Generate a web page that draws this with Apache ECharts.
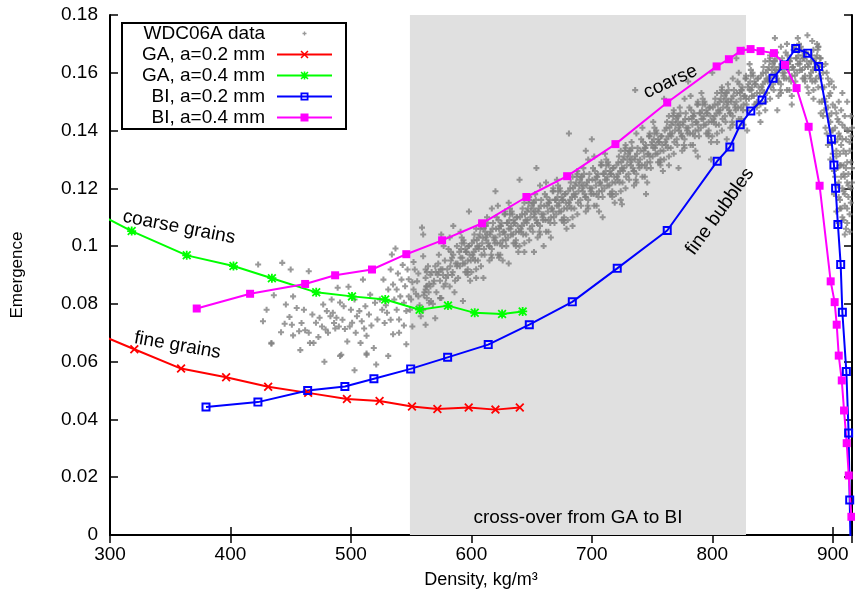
<!DOCTYPE html>
<html><head><meta charset="utf-8">
<script src="https://cdn.jsdelivr.net/npm/echarts@6/dist/echarts.min.js"></script>
<style>html,body{margin:0;padding:0;background:#fff}#c{width:855px;height:598px}</style>
</head><body><div id="c"></div>
<script>
// ---- data (density kg/m3, emergence) ----
const seriesNames = ['WDC06A data', 'GA, a=0.2 mm', 'GA, a=0.4 mm', 'BI, a=0.2 mm', 'BI, a=0.4 mm'];
const xTicks = [300, 400, 500, 600, 700, 800, 900];
const yTicks = [0, 0.02, 0.04, 0.06, 0.08, 0.1, 0.12, 0.14, 0.16, 0.18];
const crossOver = [549, 828];

const ga02 = [[280,.0713],[320.2,.0643],[359,.0576],[396.4,.0546],[431.3,.0513],[464.5,.0492],[496.7,.0471],[523.8,.0464],[550.7,.0445],[571.8,.0436],[597.8,.0441],[620,.0434],[640.2,.0441]];
const ga04 = [[275,.1145],[318,.1052],[363.7,.0968],[402.5,.0931],[434.4,.0889],[471.2,.084],[500.9,.0826],[528.5,.0815],[557,.078],[580.6,.0794],[602.8,.0769],[625.5,.0765],[642.6,.0774]];
const bi02 = [[379.7,.0443],[422.8,.046],[464.1,.05],[495,.0514],[519.1,.0541],[549.6,.0575],[580.3,.0615],[614,.0659],[648.1,.0728],[683.8,.0807],[721.1,.0923],[762.6,.1054],[804.1,.1294],[814.6,.1343],[823.2,.142],[832,.1468],[841.3,.1506],[850.5,.1581],[859.6,.1627],[869.3,.1684],[879.2,.1668],[888.3,.1622],[898.9,.137],[901,.1281],[902.4,.12],[904.3,.1075],[906.6,.0936],[908,.0771],[911.3,.0566],[913.2,.0353],[914.1,.0121],[915.2,-.012]];
const bi04 = [[372,.0784],[416.3,.0835],[462,.0869],[486.9,.0899],[517.5,.0919],[546,.0972],[575.7,.102],[608.9,.1079],[645.7,.117],[679.5,.1242],[719.6,.1353],[762.6,.1497],[803.6,.1622],[813.8,.1647],[823.5,.1676],[831.8,.1682],[840.1,.1675],[851.2,.1668],[860.4,.1627],[870,.1547],[880,.1413],[889.1,.1209],[898.3,.0878],[901.6,.0806],[903.3,.0728],[905,.0621],[907.5,.0535],[909.4,.0431],[911.6,.0318],[913.3,.0206],[915.5,.0063]];

const wdcLow = [[423,.0936],[443,.0942],[450,.0919],[465,.0913],[427,.074],[430,.078],[434,.0665],[436,.083],[442,.0702],[445,.0731],[446,.0798],[451,.0728],[452,.0826],[452,.0691],[455,.0786],[459,.0734],[461,.078],[462,.0709],[465,.07],[466,.0665],[468,.0763],[469,.0665],[474,.0752],[476,.0722],[477,.0798],[479,.0711],[481,.07],[483,.0757],[485,.0769],[486,.0734],[488,.0752],[489,.0856],[490,.0722],[492,.0624],[494,.0792],[495,.0713],[497,.067],[498,.0859],[499,.0722],[500,.078],[504,.07],[505,.0757],[508,.0665],[509,.074],[510,.0884],[512,.0792],[513,.0624],[513,.069],[515,.0763],[516,.0832],[519,.0647],[520,.0804],[522,.0746],[526,.078],[527,.0884],[528,.0734],[530,.0769],[531,.085],[533,.0919],[534,.0971],[535,.0867],[537,.0992],[538,.078],[538,.085],[540,.0746],[541,.0826],[542,.0884],[544,.0804],[545,.0861],[547,.0919],[548,.0826],[549,.078],[551,.0722],[552,.085],[553,.0919],[555,.0878],[556,.0826],[558,.0757],[559,.1064],[560,.104],[560,.0965],[562,.0919],[562,.0728],[563,.0861],[565,.0804],
[491,.062],[513,.0628],[434,.0662],[503,.057],[478,.060],[521,.059],[458,.064],[531,.062],[546,.066],[540,.07],
[524,.0815],[529,.0795],[533,.0745],[536,.0815],[539,.0905],[543,.0935],[546,.0775],[548,.0885],[550,.0815],[552,.0945],[554,.0835],[556,.0905],[557,.0795],[551,.0875],[544,.0725],[535,.0695],
[471,.0735],[480,.0775],[487,.0715],[493,.0745],[501,.0735],[507,.0775],[511,.0715],[517,.0725],[503,.0815],[491,.0805],[484,.0815],[473,.0685],[457,.0705],[449,.0755]];

const wdcBand = [
[560,.078],[561,.084],[562,.089],[563,.082],[564,.093],[565,.087],[566,.086],[567,.091],[568,.080],[569,.088],[562,.085],[566,.090],
[570,.093],[571,.084],[572,.090],[573,.097],[574,.088],[575,.082],[576,.092],[577,.086],[578,.095],[579,.089],[573,.091],[577,.100],
[580,.092],[581,.099],[582,.086],[583,.095],[584,.090],[585,.097],[586,.084],[587,.094],[588,.100],[589,.089],[584,.096],[582,.103],[588,.093],
[590,.098],[591,.096],[592,.103],[593,.094],[594,.101],[595,.091],[596,.098],[597,.095],[598,.100],[599,.088],[591,.105],[595,.099],[597,.092],
[600,.091],[601,.097],[602,.102],[603,.095],[604,.106],[605,.100],[606,.099],[607,.104],[608,.093],[609,.101],[602,.098],[606,.103],[604,.089],[608,.108],
[610,.106],[611,.097],[612,.103],[613,.110],[614,.101],[615,.095],[616,.105],[617,.099],[618,.108],[619,.102],[613,.104],[617,.113],[615,.100],[611,.107],
[620,.103],[621,.110],[622,.097],[623,.106],[624,.101],[625,.108],[626,.095],[627,.105],[628,.111],[629,.100],[624,.107],[622,.114],[628,.104],[626,.102],
[630,.108],[631,.106],[632,.113],[633,.104],[634,.111],[635,.101],[636,.108],[637,.105],[638,.110],[639,.098],[631,.115],[635,.109],[637,.102],[633,.107],
[640,.100],[641,.106],[642,.111],[643,.104],[644,.115],[645,.109],[646,.108],[647,.113],[648,.102],[649,.110],[642,.107],[646,.112],[644,.098],[648,.117],
[650,.114],[651,.105],[652,.111],[653,.118],[654,.109],[655,.103],[656,.113],[657,.107],[658,.116],[659,.110],[653,.112],[657,.121],[655,.108],[651,.115],
[660,.111],[661,.118],[662,.105],[663,.114],[664,.109],[665,.116],[666,.103],[667,.113],[668,.119],[669,.108],[664,.115],[662,.122],[668,.112],[666,.110],
[670,.116],[671,.114],[672,.121],[673,.112],[674,.119],[675,.109],[676,.116],[677,.113],[678,.118],[679,.106],[671,.123],[675,.117],[677,.110],[673,.115],
[680,.109],[681,.115],[682,.120],[683,.113],[684,.124],[685,.118],[686,.117],[687,.122],[688,.111],[689,.119],[682,.116],[686,.121],[684,.107],[688,.126],
[690,.123],[691,.114],[692,.120],[693,.127],[694,.118],[695,.112],[696,.122],[697,.116],[698,.125],[699,.119],[693,.121],[697,.130],[695,.117],[691,.124],
[700,.120],[701,.127],[702,.114],[703,.123],[704,.118],[705,.125],[706,.112],[707,.122],[708,.128],[709,.117],[704,.124],[702,.131],[708,.121],[706,.119],
[710,.125],[711,.123],[712,.130],[713,.121],[714,.128],[715,.118],[716,.125],[717,.122],[718,.127],[719,.115],[711,.132],[715,.126],[717,.119],[713,.124],
[720,.118],[721,.124],[722,.129],[723,.122],[724,.133],[725,.127],[726,.126],[727,.131],[728,.120],[729,.128],[722,.125],[726,.130],[724,.116],[728,.135],
[730,.132],[731,.123],[732,.129],[733,.136],[734,.127],[735,.121],[736,.131],[737,.125],[738,.134],[739,.128],[733,.130],[737,.139],[735,.126],[731,.133],
[740,.130],[741,.137],[742,.124],[743,.133],[744,.128],[745,.135],[746,.122],[747,.132],[748,.138],[749,.127],[744,.134],[742,.141],[748,.131],[746,.129],
[750,.136],[751,.134],[752,.141],[753,.132],[754,.139],[755,.129],[756,.136],[757,.133],[758,.138],[759,.126],[751,.143],[755,.137],[757,.130],[753,.135],
[760,.130],[761,.136],[762,.141],[763,.134],[764,.145],[765,.139],[766,.138],[767,.143],[768,.132],[769,.140],[762,.137],[766,.142],[764,.128],[768,.147],
[770,.144],[771,.135],[772,.141],[773,.148],[774,.139],[775,.133],[776,.143],[777,.137],[778,.146],[779,.140],[773,.142],[777,.151],[775,.138],[771,.145],
[780,.141],[781,.148],[782,.135],[783,.144],[784,.139],[785,.146],[786,.133],[787,.143],[788,.149],[789,.138],[784,.145],[782,.152],[788,.142],[786,.140],
[790,.146],[791,.144],[792,.151],[793,.142],[794,.149],[795,.139],[796,.146],[797,.143],[798,.148],[799,.136],[791,.153],[795,.147],[797,.140],[793,.145],
[800,.138],[801,.144],[802,.149],[803,.142],[804,.153],[805,.147],[806,.146],[807,.151],[808,.140],[809,.148],[802,.145],[806,.150],[804,.136],[808,.155],
[810,.152],[811,.143],[812,.149],[813,.156],[814,.147],[815,.141],[816,.151],[817,.145],[818,.154],[819,.148],[813,.150],[817,.158],[815,.146],[811,.153],
[820,.150],[821,.157],[822,.144],[823,.153],[824,.148],[825,.155],[826,.142],[827,.152],[828,.158],[829,.147],[824,.154],[822,.160],[828,.151],[826,.149],
[830,.156],[831,.154],[832,.161],[833,.152],[834,.159],[835,.149],[836,.156],[837,.153],[838,.158],[839,.146],[831,.163],[835,.157],[837,.150],[833,.155],
[840,.149],[841,.155],[842,.160],[843,.153],[844,.164],[845,.158],[846,.157],[847,.162],[848,.151],[849,.159],[842,.156],[846,.161],[844,.147],[848,.166],
[850,.163],[851,.154],[852,.160],[853,.167],[854,.158],[855,.152],[856,.162],[857,.156],[858,.165],[859,.159],[853,.161],[857,.169],[855,.157],[851,.164],
[860,.160],[861,.167],[862,.154],[863,.163],[864,.158],[865,.165],[866,.152],[867,.162],[868,.168],[869,.157],[864,.164],[862,.170],[868,.161],[866,.159],
[870,.165],[871,.163],[872,.170],[873,.161],[874,.168],[875,.158],[876,.165],[877,.162],[878,.167],[879,.155],[871,.172],[875,.166],[877,.159],[873,.164],
[880,.153],[881,.159],[882,.164],[883,.157],[884,.168],[885,.162],[886,.161],[887,.166],[888,.155],[889,.163],[882,.160],[886,.165],[884,.151],[888,.169]];

const wdcCore = [
[560.5,.083],[562.5,.086],[564.5,.084],[566.5,.081],[568.5,.087],[563,.091],
[570.5,.091],[572.5,.094],[574.5,.092],[576.5,.090],[578.5,.087],[574,.082],
[580.5,.090],[582.5,.093],[584.5,.091],[586.5,.088],[588.5,.094],[583,.098],
[590.5,.093],[591.5,.099],[592.5,.096],[593.5,.102],[594.5,.094],[595.5,.098],[596.5,.091],[597.5,.100],[598.5,.097],[599.5,.095],[592,.101],[597,.090],
[600.5,.101],[601.5,.096],[602.5,.104],[603.5,.099],[604.5,.102],[605.5,.095],[606.5,.100],[607.5,.106],[608.5,.097],[609.5,.103],[604,.092],[608,.107],
[610.5,.099],[611.5,.105],[612.5,.102],[613.5,.108],[614.5,.100],[615.5,.104],[616.5,.097],[617.5,.106],[618.5,.103],[619.5,.101],[612,.107],[617,.096],
[620.5,.106],[621.5,.101],[622.5,.109],[623.5,.104],[624.5,.107],[625.5,.100],[626.5,.105],[627.5,.111],[628.5,.102],[629.5,.108],[624,.097],[628,.112],
[630.5,.103],[631.5,.109],[632.5,.106],[633.5,.112],[634.5,.104],[635.5,.108],[636.5,.101],[637.5,.110],[638.5,.107],[639.5,.105],[632,.111],[637,.100],
[640.5,.110],[641.5,.105],[642.5,.113],[643.5,.108],[644.5,.111],[645.5,.104],[646.5,.109],[647.5,.115],[648.5,.106],[649.5,.112],[644,.101],[648,.116],
[650.5,.107],[651.5,.113],[652.5,.110],[653.5,.116],[654.5,.108],[655.5,.112],[656.5,.105],[657.5,.114],[658.5,.111],[659.5,.109],[652,.115],[657,.104],
[660.5,.114],[661.5,.109],[662.5,.117],[663.5,.112],[664.5,.115],[665.5,.108],[666.5,.113],[667.5,.119],[668.5,.110],[669.5,.116],[664,.105],[668,.120],
[670.5,.111],[671.5,.117],[672.5,.114],[673.5,.120],[674.5,.112],[675.5,.116],[676.5,.109],[677.5,.118],[678.5,.115],[679.5,.113],[672,.119],[677,.108],
[680.5,.119],[681.5,.114],[682.5,.122],[683.5,.117],[684.5,.120],[685.5,.113],[686.5,.118],[687.5,.124],[688.5,.115],[689.5,.121],[684,.110],[688,.125],
[690.5,.116],[691.5,.122],[692.5,.119],[693.5,.125],[694.5,.117],[695.5,.121],[696.5,.114],[697.5,.123],[698.5,.120],[699.5,.118],[692,.124],[697,.113],
[700.5,.123],[701.5,.118],[702.5,.126],[703.5,.121],[704.5,.124],[705.5,.117],[706.5,.122],[707.5,.128],[708.5,.119],[709.5,.125],[704,.114],[708,.129],
[710.5,.120],[711.5,.126],[712.5,.123],[713.5,.129],[714.5,.121],[715.5,.125],[716.5,.118],[717.5,.127],[718.5,.124],[719.5,.122],[712,.128],[717,.117],
[720.5,.128],[721.5,.123],[722.5,.131],[723.5,.126],[724.5,.129],[725.5,.122],[726.5,.127],[727.5,.133],[728.5,.124],[729.5,.130],[724,.119],[728,.134],
[730.5,.125],[731.5,.131],[732.5,.128],[733.5,.134],[734.5,.126],[735.5,.130],[736.5,.123],[737.5,.132],[738.5,.129],[739.5,.127],[732,.133],[737,.122],
[740.5,.133],[741.5,.128],[742.5,.136],[743.5,.131],[744.5,.134],[745.5,.127],[746.5,.132],[747.5,.138],[748.5,.129],[749.5,.135],[744,.124],[748,.139],
[750.5,.131],[751.5,.137],[752.5,.134],[753.5,.140],[754.5,.132],[755.5,.136],[756.5,.129],[757.5,.138],[758.5,.135],[759.5,.133],[752,.139],[757,.128],
[760.5,.140],[761.5,.135],[762.5,.143],[763.5,.138],[764.5,.141],[765.5,.134],[766.5,.139],[767.5,.145],[768.5,.136],[769.5,.142],[764,.131],[768,.146],
[770.5,.137],[771.5,.143],[772.5,.140],[773.5,.146],[774.5,.138],[775.5,.142],[776.5,.135],[777.5,.144],[778.5,.141],[779.5,.139],[772,.145],[777,.134],
[780.5,.144],[781.5,.139],[782.5,.147],[783.5,.142],[784.5,.145],[785.5,.138],[786.5,.143],[787.5,.149],[788.5,.140],[789.5,.146],[784,.135],[788,.150],
[790.5,.141],[791.5,.147],[792.5,.144],[793.5,.150],[794.5,.142],[795.5,.146],[796.5,.139],[797.5,.148],[798.5,.145],[799.5,.143],[792,.149],[797,.138],
[800.5,.148],[801.5,.143],[802.5,.151],[803.5,.146],[804.5,.149],[805.5,.142],[806.5,.147],[807.5,.153],[808.5,.144],[809.5,.150],[804,.139],[808,.154],
[810.5,.145],[811.5,.151],[812.5,.148],[813.5,.154],[814.5,.146],[815.5,.150],[816.5,.143],[817.5,.152],[818.5,.149],[819.5,.147],[812,.153],[817,.142],
[820.5,.153],[821.5,.148],[822.5,.156],[823.5,.151],[824.5,.154],[825.5,.147],[826.5,.152],[827.5,.158],[828.5,.149],[829.5,.155],[824,.144],[828,.159],
[830.5,.151],[831.5,.157],[832.5,.154],[833.5,.160],[834.5,.152],[835.5,.156],[836.5,.149],[837.5,.158],[838.5,.155],[839.5,.153],[832,.159],[837,.148],
[840.5,.159],[841.5,.154],[842.5,.162],[843.5,.157],[844.5,.160],[845.5,.153],[846.5,.158],[847.5,.164],[848.5,.155],[849.5,.161],[844,.150],[848,.165],
[850.5,.156],[851.5,.162],[852.5,.159],[853.5,.165],[854.5,.157],[855.5,.161],[856.5,.154],[857.5,.163],[858.5,.160],[859.5,.158],[852,.164],[857,.153],
[860.5,.163],[861.5,.158],[862.5,.166],[863.5,.161],[864.5,.164],[865.5,.157],[866.5,.162],[867.5,.168],[868.5,.159],[869.5,.165],[864,.154],[868,.169],
[870.5,.160],[871.5,.166],[872.5,.163],[873.5,.169],[874.5,.161],[875.5,.165],[876.5,.158],[877.5,.167],[878.5,.164],[879.5,.162],[872,.168],[877,.157],
[880.5,.163],[881.5,.158],[882.5,.166],[883.5,.161],[884.5,.164],[885.5,.157],[886.5,.162],[887.5,.168],[888.5,.159],[889.5,.165],[884,.154],[888,.169]];

const wdcFall = [[890,.158],[891,.150],[892,.145],[893,.155],[894,.141],[895,.160],[896,.148],[897,.152],[898,.143],[899,.157],[891,.162],[893,.147],[895,.139],[897,.156],[899,.146],
[896,.135],[898,.130],[900,.140],[901,.126],[902,.136],[903,.131],[904,.144],[905,.122],[906,.138],[907,.128],[908,.142],[909,.133],[910,.124],[911,.137],[912,.129],[913,.140],[900,.132],[904,.127],[907,.135],[910,.141],
[901,.118],[903,.112],[904,.121],[905,.108],[906,.116],[907,.124],[908,.110],[909,.119],[910,.114],[911,.106],[912,.122],[913,.117],[914,.111],[915,.120],[906,.113],[909,.125],
[914,.133],[915,.145],[916,.127],[915,.138],[912,.150],[908,.153],[905,.150],[902,.148],[883,.171],[887,.170],[879,.173],
[889,.150],[890,.146],[891,.155],[892,.160],[893,.151],[894,.163],[896,.158],[897,.145],[898,.153],[899,.140],[900,.149],[901,.155],[902,.141],[903,.146],[904,.137],[905,.143],[906,.132],[907,.147],[908,.137],[909,.128],[910,.145],[911,.132],[912,.140],[913,.125],[914,.136],[915,.129],[916,.141],[902,.124],[903,.133],[905,.117],[906,.128],[907,.113],[908,.120],[909,.109],[910,.118],[911,.127],[912,.113],[913,.121],[914,.105],[915,.115],[916,.122],[910,.104],[912,.108],[905,.139],[898,.136],[894,.150],[890,.165],[886,.158]];

const wdcStray = [[681,.139],[695,.133],[736,.154],[709,.110],[725,.1145],[623,.096],[593,.081],[570,.075],[654,.127],[640,.123],[700,.137],[760,.151],[788,.131],[812,.137],[829,.140],[840,.143],[854,.147],[866,.149],[660,.100],[610,.089],[620,.119],[585,.107],[575,.104],[598,.112],[745,.118],[772,.127],[799,.130],[826,.168],[852,.172],[820,.165],[800,.160],[780,.157],[631,.094],[652,.098]];

const wdc06a = wdcLow.concat(wdcBand, wdcCore, wdcFall, wdcStray);

const annotations = [
  {text: 'coarse grains', at: [357.3, 0.1065], angle: -11},
  {text: 'fine grains', at: [356, 0.0656], angle: -10},
  {text: 'coarse', at: [765.3, 0.1569], angle: 25},
  {text: 'fine bubbles', at: [806.4, 0.112], angle: 54}
];

// ---- symbols ----
const plusSym = 'path://M3.3,0H6.7V3.3H10V6.7H6.7V10H3.3V6.7H0V3.3H3.3Z';
const plusLegend = 'path://M0,0M30,30M13,9H17V13H21V17H17V21H13V17H9V13H13Z';
const xSym = 'path://M0,1.4L1.4,0L5,3.6L8.6,0L10,1.4L6.4,5L10,8.6L8.6,10L5,6.4L1.4,10L0,8.6L3.6,5Z';
const starSym = 'path://M0,1.4L1.4,0L5,3.6L8.6,0L10,1.4L6.4,5L10,8.6L8.6,10L5,6.4L1.4,10L0,8.6L3.6,5ZM4,0H6V4H10V6H6V10H4V6H0V4H4Z';
const ringSym = 'path://M0,0H10V10H0ZM2.2,2.2V7.8H7.8V2.2Z';

const FONT = 'Liberation Sans';
const chart = echarts.init(document.getElementById('c'), null, {renderer: 'canvas'});

function lineSeries(name, data, color, symbol, size) {
  return {
    name: name, type: 'line', data: data, xAxisIndex: 0, yAxisIndex: 0,
    symbol: symbol, symbolSize: size, showAllSymbol: true,
    lineStyle: {color: color, width: 2}, itemStyle: {color: color},
    z: 3, silent: true
  };
}

const axisLineStyle = {show: true, lineStyle: {color: '#000', width: 2}};
const tickStyle = {show: true, inside: true, length: 8, lineStyle: {color: '#000', width: 1.5}};

const option = {
  animation: false,
  backgroundColor: '#fff',
  textStyle: {fontFamily: FONT},
  grid: {left: 110, right: 3, top: 15, bottom: 63, containLabel: false},
  xAxis: [
    {type: 'value', min: 300, max: 916, interval: 100, position: 'bottom',
     name: 'Density, kg/m³', nameLocation: 'middle', nameGap: 36,
     nameTextStyle: {fontSize: 18, color: '#000', fontFamily: FONT},
     axisLine: axisLineStyle, axisTick: tickStyle, splitLine: {show: false},
     axisLabel: {fontSize: 19, color: '#000', margin: 10, fontFamily: FONT,
       formatter: v => (xTicks.indexOf(v) >= 0 ? String(v) : '')}},
    {type: 'value', min: 300, max: 916, interval: 100, position: 'top',
     axisLine: axisLineStyle, axisTick: tickStyle, splitLine: {show: false}, axisLabel: {show: false}}
  ],
  yAxis: [
    {type: 'value', min: 0, max: 0.18, interval: 0.02, position: 'left',
     name: 'Emergence', nameLocation: 'middle', nameGap: 84,
     nameTextStyle: {fontSize: 17, color: '#000', fontFamily: FONT},
     axisLine: axisLineStyle, axisTick: tickStyle, splitLine: {show: false},
     axisLabel: {fontSize: 19, color: '#000', margin: 12, fontFamily: FONT,
       formatter: v => { const t = yTicks.find(k => Math.abs(k - v) < 1e-9); return t === undefined ? '' : String(t); }}},
    {type: 'value', min: 0, max: 0.18, interval: 0.02, position: 'right',
     axisLine: axisLineStyle, axisTick: tickStyle, splitLine: {show: false}, axisLabel: {show: false}}
  ],
  legend: {
    orient: 'vertical', left: 122, top: 23, align: 'right',
    itemWidth: 55, itemHeight: 10, itemGap: 2,
    padding: [1, 13, 2, 3],
    borderColor: '#000', borderWidth: 2, backgroundColor: '#fff',
    selectedMode: false,
    data: [{name: seriesNames[0], icon: plusLegend}, seriesNames[1], seriesNames[2], seriesNames[3], seriesNames[4]],
    formatter: '{a|{name}}',
    textStyle: {fontSize: 19, fontFamily: FONT, color: '#000',
      rich: {a: {width: 140, align: 'right', fontSize: 19, lineHeight: 18, fontFamily: FONT, color: '#000', padding: [0, 7, 0, 0]}}}
  },
  series: [
    {
      name: seriesNames[0], type: 'scatter', data: wdc06a, xAxisIndex: 0, yAxisIndex: 0,
      symbol: plusSym, symbolSize: 6, itemStyle: {color: '#808080'}, z: 2, silent: true,
      markArea: {
        silent: true, itemStyle: {color: '#e0e0e0'},
        label: {show: true, position: 'insideBottom', distance: 8, fontSize: 19, color: '#000', fontFamily: FONT},
        data: [[{xAxis: crossOver[0], name: 'cross-over from GA to BI'}, {xAxis: crossOver[1]}]]
      }
    },
    lineSeries(seriesNames[1], ga02, '#ff0000', xSym, 9),
    lineSeries(seriesNames[2], ga04, '#00ff00', starSym, 9),
    lineSeries(seriesNames[3], bi02, '#0000ff', ringSym, 9),
    lineSeries(seriesNames[4], bi04, '#ff00ff', 'rect', 8)
  ]
};
chart.setOption(option);

const g = annotations.map(a => {
  const p = chart.convertToPixel({seriesIndex: 0}, a.at);
  return {type: 'text', x: p[0], y: p[1], rotation: a.angle * Math.PI / 180, z: 100, silent: true,
    style: {text: a.text, fontSize: 19, fontFamily: FONT, fill: '#000', align: 'center', verticalAlign: 'middle'}};
});
chart.setOption({graphic: g});
</script>
</body></html>
